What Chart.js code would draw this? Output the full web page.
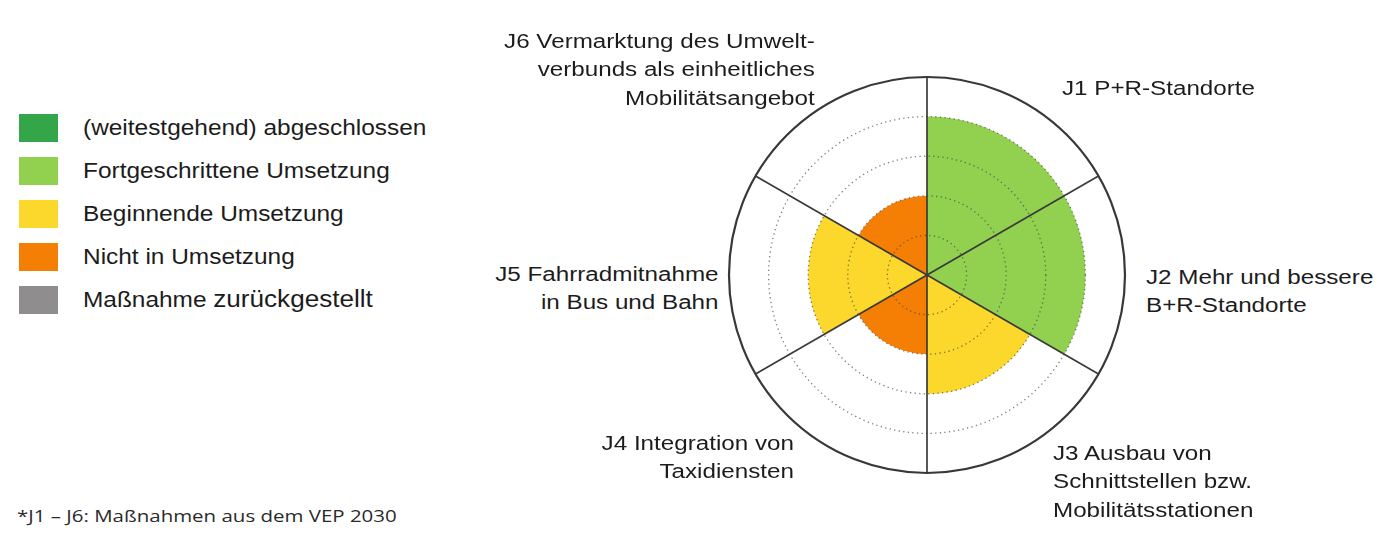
<!DOCTYPE html>
<html lang="de">
<head>
<meta charset="utf-8">
<title>Umsetzungsstand J1 – J6</title>
<script src="https://cdn.jsdelivr.net/npm/chart.js@4.4.1/dist/chart.umd.min.js"></script>
<style>
    html, body { margin: 0; padding: 0; background: #fff; overflow: hidden; }
    body { width: 1400px; height: 542px; position: relative; font-family: "Liberation Sans", Arial, sans-serif; color: #1c1c1c; }
    #chartBox { position: absolute; left: 727px; top: 75px; width: 400px; height: 400px; }
    #polarChart { display: block; width: 400px; height: 400px; }
    .seg-label { position: absolute; font-size: 20px; line-height: 28.3px; white-space: pre; }
    .seg-label.left { text-align: left; transform: scaleX(1.21); transform-origin: left top; }
    .seg-label.right { text-align: right; transform: scaleX(1.21); transform-origin: right top; }
    #legend { position: absolute; left: 19px; top: 106px; }
    .legend-row { display: flex; align-items: center; height: 43px; }
    .legend-swatch { width: 39px; height: 28px; margin-right: 25px; }
    .legend-text { font-size: 22px; white-space: pre; transform: scaleX(1.11); transform-origin: left center; }
    .legend-text .big { font-size: 23.5px; }
    #note { position: absolute; left: 17px; top: 505px; font-family: "Open Sans", sans-serif; font-size: 15.5px; color: #2a2a2a; white-space: pre; transform: scaleX(1.32); transform-origin: left top; }
</style>
</head>
<body>
<div id="legend"></div>
<div id="chartBox"><canvas id="polarChart" width="400" height="400"></canvas></div>
<div id="note">*J1 – J6: Maßnahmen aus dem VEP 2030</div>

<script>
// Maßnahmen J1 - J6 (im Uhrzeigersinn ab 12 Uhr)
const categories = ['J1', 'J2', 'J3', 'J4', 'J5', 'J6'];
const categoryTexts = [
    'J1 P+R-Standorte',
    'J2 Mehr und bessere\nB+R-Standorte',
    'J3 Ausbau von\nSchnittstellen bzw.\nMobilitätsstationen',
    'J4 Integration von\nTaxidiensten',
    'J5 Fahrradmitnahme\nin Bus und Bahn',
    'J6 Vermarktung des Umwelt-\nverbunds als einheitliches\nMobilitätsangebot'
];
// Umsetzungsstand als Radius (Ringe 1..4, Außenkreis 5)
const values = [4, 4, 3, 2, 3, 2];
const statusOfCategory = ['fortgeschritten', 'fortgeschritten', 'beginnend', 'nicht', 'beginnend', 'nicht'];
const radiusTicks = [0, 1, 2, 3, 4, 5];

// Legende
const legendKeys = ['abgeschlossen', 'fortgeschritten', 'beginnend', 'nicht', 'zurueckgestellt'];
const legendTexts = [
    '(weitestgehend) abgeschlossen',
    'Fortgeschrittene Umsetzung',
    'Beginnende Umsetzung',
    'Nicht in Umsetzung',
    'Maßnahme zurückgestellt'
];

const statusColors = {
    abgeschlossen: '#34a548',
    fortgeschritten: '#92d050',
    beginnend: '#fcd72c',
    nicht: '#f57e05',
    zurueckgestellt: '#8f8d8e'
};

// Lage der Beschriftungen (px auf der Seite)
const labelPlacement = [
    { side: 'left', x: 1062, top: 74 },
    { side: 'left', x: 1146, top: 263 },
    { side: 'left', x: 1053, top: 439 },
    { side: 'right', x: 794, top: 429 },
    { side: 'right', x: 719, top: 260 },
    { side: 'right', x: 815, top: 27 }
];

function renderLegend() {
    const box = document.getElementById('legend');
    box.innerHTML = legendKeys.map((key, i) => {
        let text = legendTexts[i];
        if (key === 'zurueckgestellt') {
            text = text.replace('zurückgestellt', '<span class="big">zurückgestellt</span>');
        }
        return `<div class="legend-row"><div class="legend-swatch" style="background:${statusColors[key]}"></div><div class="legend-text">${text}</div></div>`;
    }).join('');
}

function renderLabels() {
    categoryTexts.forEach((text, i) => {
        const p = labelPlacement[i];
        const el = document.createElement('div');
        el.className = 'seg-label ' + p.side;
        el.textContent = text;
        el.style.top = p.top + 'px';
        if (p.side === 'left') {
            el.style.left = p.x + 'px';
        } else {
            el.style.right = (1400 - p.x) + 'px';
        }
        document.body.appendChild(el);
    });
}

function renderChart() {
    const ctx = document.getElementById('polarChart').getContext('2d');
    const maxTick = radiusTicks[radiusTicks.length - 1];

    new Chart(ctx, {
        type: 'polarArea',
        data: {
            labels: categories,
            datasets: [{
                data: values,
                backgroundColor: statusOfCategory.map(s => statusColors[s]),
                borderWidth: 0
            }]
        },
        options: {
            responsive: false,
            animation: false,
            events: [],
            layout: { padding: 2 },
            plugins: {
                legend: { display: false },
                tooltip: { enabled: false }
            },
            scales: {
                r: {
                    min: radiusTicks[0],
                    max: maxTick,
                    startAngle: 0,
                    ticks: { display: false, stepSize: 1 },
                    pointLabels: { display: false },
                    angleLines: {
                        display: true,
                        color: '#3a3a3a',
                        lineWidth: 1.7
                    },
                    // Gitter über den Segmenten zeichnen
                    grid: {
                        z: 1,
                        circular: true,
                        color: c => c.tick && c.tick.value === maxTick ? '#383838' : 'rgba(70,70,70,0.7)',
                        lineWidth: c => c.tick && c.tick.value === maxTick ? 2.2 : 1.3
                    },
                    border: {
                        dash: c => c.tick && c.tick.value === maxTick ? [] : [1.3, 3.3]
                    }
                }
            }
        }
    });
}

renderLegend();
renderLabels();
renderChart();
</script>
</body>
</html>
